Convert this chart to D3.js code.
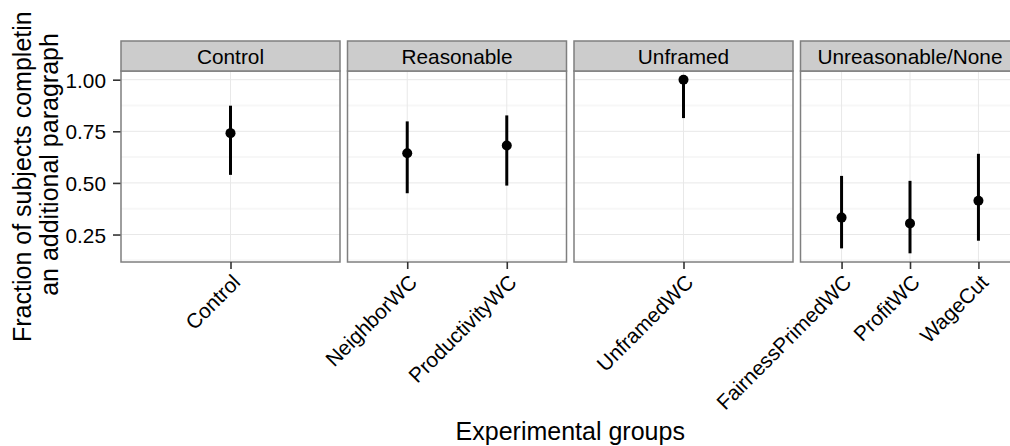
<!DOCTYPE html>
<html>
<head>
<meta charset="utf-8">
<script src="https://cdn.jsdelivr.net/npm/d3@7"></script>
<style>
  body { margin: 0; background: #fff; }
  svg { display: block; font-family: "Liberation Sans", Arial, Helvetica, sans-serif; }
  .axis path { display: none; }
  .axis line { stroke: #333; stroke-width: 1.6; }
  .axis text { font-size: 20.8px; fill: #000; }
</style>
</head>
<body>
<svg id="chart"></svg>
<script>
// Data
const categories = ["Control", "NeighborWC", "ProductivityWC", "UnframedWC", "FairnessPrimedWC", "ProfitWC", "WageCut"];
const groups = ["Control", "Reasonable", "Reasonable", "Unframed", "Unreasonable/None", "Unreasonable/None", "Unreasonable/None"];
const facets = ["Control", "Reasonable", "Unframed", "Unreasonable/None"];
const fraction = [0.741, 0.644, 0.681, 1.000, 0.332, 0.304, 0.414];
const lower = [0.539, 0.450, 0.487, 0.814, 0.183, 0.159, 0.220];
const upper = [0.874, 0.798, 0.827, 1.000, 0.534, 0.510, 0.641];
const yTicks = [0.25, 0.50, 0.75, 1.00];
const yMinor = [0.125, 0.375, 0.625, 0.875];

const data = categories.map((c, i) => ({
  category: c, group: groups[i], y: fraction[i], lo: lower[i], hi: upper[i]
}));

const width = 1010, height = 446;
const margin = {top: 41, left: 121, bottom: 184};
const stripH = 30;
const panelW = 219, panelGap = 7.5;
const panelTop = margin.top + stripH;
const panelBottom = height - margin.bottom;

const svg = d3.select("#chart").attr("width", width).attr("height", height);

// y scale with ggplot-style 5% expansion
const yLo = d3.min(data, d => d.lo), yHi = d3.max(data, d => d.hi);
const ex = (yHi - yLo) * 0.05;
const yScale = d3.scaleLinear()
  .domain([yLo - ex, yHi + ex])
  .range([panelBottom, panelTop]);

const yAxis = d3.axisLeft(yScale)
  .tickValues(yTicks)
  .tickSize(8)
  .tickPadding(7)
  .tickFormat(d3.format(".2f"));

svg.append("g")
  .attr("class", "axis y-axis")
  .attr("transform", `translate(${margin.left},0)`)
  .call(yAxis)
  .selectAll("text").attr("dy", "0.36em");

facets.forEach((f, k) => {
  const x0 = margin.left + k * (panelW + panelGap);
  const rows = data.filter(d => d.group === f);

  const xScale = d3.scalePoint()
    .domain(rows.map(d => d.category))
    .range([0, panelW])
    .padding(0.6);

  const g = svg.append("g").attr("transform", `translate(${x0},0)`);

  // panel background
  g.append("rect")
    .attr("x", 0).attr("y", panelTop)
    .attr("width", panelW).attr("height", panelBottom - panelTop)
    .attr("fill", "#fff");

  // minor grid
  g.selectAll(".minor")
    .data(yMinor.filter(v => yScale(v) < panelBottom && yScale(v) > panelTop))
    .join("line")
    .attr("x1", 0).attr("x2", panelW)
    .attr("y1", d => yScale(d)).attr("y2", d => yScale(d))
    .attr("stroke", "#f7f7f7").attr("stroke-width", 2);

  // major grid
  g.selectAll(".major-h")
    .data(yTicks)
    .join("line")
    .attr("x1", 0).attr("x2", panelW)
    .attr("y1", d => yScale(d)).attr("y2", d => yScale(d))
    .attr("stroke", "#e8e8e8").attr("stroke-width", 1);

  g.selectAll(".major-v")
    .data(rows)
    .join("line")
    .attr("x1", d => xScale(d.category)).attr("x2", d => xScale(d.category))
    .attr("y1", panelTop).attr("y2", panelBottom)
    .attr("stroke", "#e8e8e8").attr("stroke-width", 1);

  // error bars
  g.selectAll(".range")
    .data(rows)
    .join("line")
    .attr("x1", d => xScale(d.category)).attr("x2", d => xScale(d.category))
    .attr("y1", d => yScale(d.lo)).attr("y2", d => yScale(d.hi))
    .attr("stroke", "#000").attr("stroke-width", 3);

  g.selectAll(".pt")
    .data(rows)
    .join("circle")
    .attr("cx", d => xScale(d.category))
    .attr("cy", d => yScale(d.y))
    .attr("r", 5)
    .attr("fill", "#000");

  // panel border
  g.append("rect")
    .attr("x", 0).attr("y", panelTop)
    .attr("width", panelW).attr("height", panelBottom - panelTop)
    .attr("fill", "none").attr("stroke", "#7f7f7f").attr("stroke-width", 1.5);

  // strip
  g.append("rect")
    .attr("x", 0).attr("y", margin.top)
    .attr("width", panelW).attr("height", stripH)
    .attr("fill", "#cccccc").attr("stroke", "#7f7f7f").attr("stroke-width", 1.5);
  g.append("text")
    .attr("x", panelW / 2).attr("y", margin.top + 23)
    .attr("text-anchor", "middle")
    .style("font-size", "20.8px")
    .text(f);

  // x axis
  const xAxisG = g.append("g")
    .attr("class", "axis x-axis")
    .attr("transform", `translate(0,${panelBottom})`)
    .call(d3.axisBottom(xScale).tickSize(7).tickSizeOuter(0));

  xAxisG.selectAll("text")
    .attr("text-anchor", "end")
    .attr("y", 0).attr("dy", "0.72em")
    .attr("transform", "translate(0,11) rotate(-45)");
});

// axis titles
svg.append("text")
  .attr("x", margin.left + (4 * panelW + 3 * panelGap) / 2)
  .attr("y", 440)
  .attr("text-anchor", "middle")
  .style("font-size", "25px")
  .text("Experimental groups");

svg.append("text")
  .attr("transform", "translate(31,342) rotate(-90)")
  .attr("text-anchor", "start")
  .style("font-size", "25px")
  .text("Fraction of subjects completin");

svg.append("text")
  .attr("transform", `translate(58,${(panelTop + panelBottom) / 2 - 2}) rotate(-90)`)
  .attr("text-anchor", "middle")
  .style("font-size", "25px")
  .text("an additional paragraph");
</script>
</body>
</html>
